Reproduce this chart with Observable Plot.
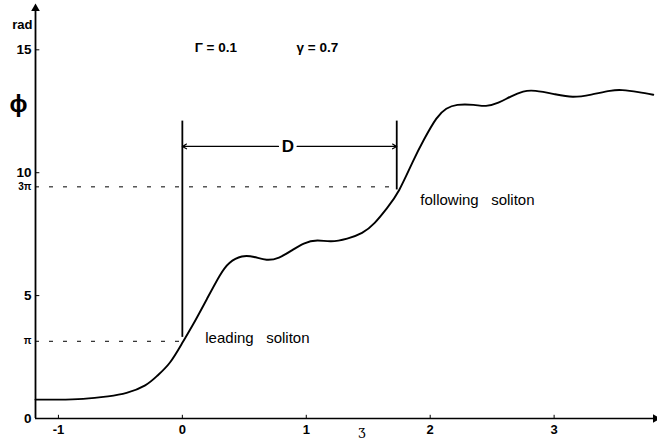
<!DOCTYPE html>
<html><head><meta charset="utf-8">
<script src="https://cdn.jsdelivr.net/npm/d3@7"></script>
<script src="https://cdn.jsdelivr.net/npm/@observablehq/plot@0.6"></script>
<style>body{margin:0;background:#fff}</style>
</head><body><div id="chart"></div>
<script>
// curve phi(xi)
const xi  = [-1.185,-1.0,-0.8,-0.6,-0.45,-0.3,-0.2,-0.1,0,0.1,0.2,0.3,0.38,0.48,0.58,0.68,0.78,0.88,0.98,1.09,1.2,1.33,1.45,1.55,1.65,1.75,1.86,1.95,2.05,2.13,2.22,2.35,2.45,2.55,2.65,2.75,2.85,3.0,3.15,3.3,3.45,3.55,3.68,3.8];
const phi = [0.77,0.77,0.80,0.90,1.04,1.35,1.75,2.28,3.08,3.95,4.88,5.80,6.33,6.59,6.57,6.46,6.55,6.83,7.12,7.24,7.21,7.32,7.55,7.95,8.55,9.3,10.45,11.35,12.2,12.6,12.76,12.76,12.72,12.85,13.1,13.3,13.33,13.2,13.09,13.18,13.33,13.36,13.28,13.17];

const yTicks = [0, 5, 10, 15];
const xTicks = [-1, 0, 1, 2, 3];
const piLevels = [Math.PI, 3 * Math.PI];
const piLabels = ["π", "3π"];
const dashEnds = [0, 1.73];          // where the dashed π / 3π lines stop
const solitonX = [0, 1.73];          // leading / following soliton markers
const solitonLabels = ["leading\u00a0\u00a0\u00a0soliton", "following\u00a0\u00a0\u00a0soliton"];
const solitonLabelX = [0.185, 1.92];
const solitonLabelY = [3.25, 8.9];
const markerTop = 12.1;
const markerBottom = [3.3, 9.3];
const dY = 11.07;
const dLabel = "D";
const dLabelX = 0.851;
const dGap = 0.075;
const params = ["Γ = 0.1", "γ = 0.7"];
const paramX = [0.27, 1.09];
const paramY = 15.1;
const xDomain = [-1.185, 3.81];
const yDomain = [0, 16.6];

const curve = xi.map((x, i) => ({x, y: phi[i]}));
const xMin = xDomain[0], xMax = xDomain[1], yTop = yDomain[1];

const chart = Plot.plot({
  width: 657, height: 440,
  marginLeft: 35, marginRight: 3, marginTop: 10, marginBottom: 22,
  x: {domain: xDomain},
  y: {domain: yDomain},
  style: {fontFamily: "'Liberation Sans', Arial, sans-serif", background: "#fff", color: "#000", overflow: "visible"},
  marks: [
    // axes lines
    Plot.ruleX([xMin], {y1: 0, y2: yTop, stroke: "#000", strokeWidth: 1.8}),
    Plot.ruleY([0], {x1: xMin, x2: xMax, stroke: "#000", strokeWidth: 1.4}),
    Plot.dot([{x: xMin, y: yTop}], {x: "x", y: "y", symbol: "triangle", r: 3.2, fill: "#000", stroke: null, dy: -2}),
    Plot.dot([{x: xMax, y: 0}], {x: "x", y: "y", symbol: "triangle", r: 3.2, fill: "#000", stroke: null, rotate: 90, dx: 1}),
    // small ticks
    Plot.ruleY(yTicks.filter(d => d > 0), {x1: xMin, x2: xMin + 0.035, stroke: "#000", strokeWidth: 1}),
    Plot.ruleX(xTicks, {y1: 0, y2: 0.13, stroke: "#000", strokeWidth: 1}),
    Plot.axisY({ticks: yTicks, tickSize: 0, tickPadding: 4, fontSize: 13.5, fontWeight: "bold", label: null}),
    Plot.axisX({ticks: xTicks, tickSize: 0, tickPadding: 6, fontSize: 13, fontWeight: "bold", label: null, tickFormat: d => d < 0 ? "-" + Math.abs(d) : String(d)}),
    // π levels
    Plot.ruleY(piLevels, {x1: xMin, x2: (d, i) => dashEnds[i], stroke: "#000", strokeWidth: 1, strokeDasharray: "4,10"}),
    Plot.text(piLevels, {x: xMin, y: d => d, text: (d, i) => piLabels[i], textAnchor: "end", dx: -4, fontSize: 10, fontWeight: "bold"}),
    // soliton markers
    Plot.ruleX(solitonX, {y1: (d, i) => markerBottom[i], y2: markerTop, stroke: "#000", strokeWidth: 1.8}),
    Plot.arrow([0], {x1: dLabelX - dGap, x2: solitonX[0], y1: dY, y2: dY, stroke: "#000", strokeWidth: 1.2, headLength: 6}),
    Plot.arrow([0], {x1: dLabelX + dGap, x2: solitonX[1], y1: dY, y2: dY, stroke: "#000", strokeWidth: 1.2, headLength: 6}),
    Plot.text([dLabel], {x: dLabelX, y: dY, text: d => d, fontSize: 17, fontWeight: "bold"}),
    // curve
    Plot.line(curve, {x: "x", y: "y", curve: "natural", stroke: "#000", strokeWidth: 1.9}),
    // annotations
    Plot.text(solitonLabels, {x: (d, i) => solitonLabelX[i], y: (d, i) => solitonLabelY[i], text: d => d, textAnchor: "start", fontSize: 15}),
    Plot.text(params, {x: (d, i) => paramX[i], y: paramY, text: d => d, fontSize: 13.5, fontWeight: "bold"}),
    Plot.text(["rad"], {x: xMin, y: 16.0, text: d => d, textAnchor: "end", dx: -3, fontSize: 13, fontWeight: "bold"}),
    Plot.text(["ϕ"], {x: xMin, y: 12.8, text: d => d, textAnchor: "end", dx: -8, fontSize: 24, fontWeight: "bold"}),
    Plot.text(["ʒ"], {x: 1.45, y: -0.5, text: d => d, fontSize: 13, fontFamily: "'DejaVu Serif', serif"})
  ]
});
document.getElementById("chart").append(chart);
</script>
</body></html>
